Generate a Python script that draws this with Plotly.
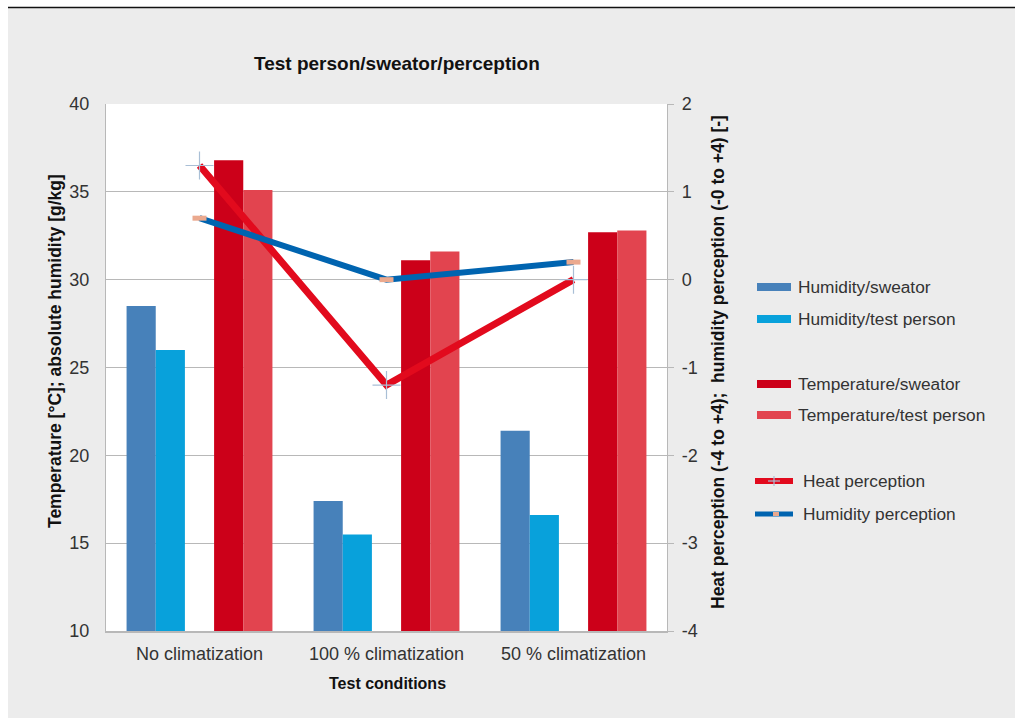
import plotly.graph_objects as go

# Test conditions (x categories)
categories = ["No climatization", "100 % climatization", "50 % climatization"]

# Left axis: temperature [°C] and absolute humidity [g/kg]
humidity_sweator = [28.5, 17.4, 21.4]
humidity_test_person = [26.0, 15.5, 16.6]
temperature_sweator = [36.8, 31.1, 32.7]
temperature_test_person = [35.1, 31.6, 32.8]

# Right axis: perception scores
heat_perception = [1.3, -1.2, 0.0]
humidity_perception = [0.7, 0.0, 0.2]

left_ticks = [10, 15, 20, 25, 30, 35, 40]
right_ticks = [-4, -3, -2, -1, 0, 1, 2]
right_tick_text = ["-4", "-3", "-2", "-1", "0", "1", "2"]

C_HUM_SW = "#4781ba"
C_HUM_TP = "#08a1db"
C_TEMP_SW = "#cc0019"
C_TEMP_TP = "#e2444f"
C_HEAT = "#e20a1d"
C_HUMP = "#0064b0"
GRID = "#b8b8b8"
TXT = "#333333"
FONT = "Liberation Sans, Arial, sans-serif"

# plot area in pixels
W, H = 1015, 718
L, R, T, B = 106, 667, 104, 631


def px(x):
    return (x - L) / (R - L)


def py(y):
    return (B - y) / (B - T)


fig = go.Figure()

bar_series = [
    ("Humidity/sweator", humidity_sweator, C_HUM_SW),
    ("Humidity/test person", humidity_test_person, C_HUM_TP),
    ("spacer", [None] * len(categories), "rgba(0,0,0,0)"),
    ("Temperature/sweator", temperature_sweator, C_TEMP_SW),
    ("Temperature/test person", temperature_test_person, C_TEMP_TP),
]
for name, vals, col in bar_series:
    fig.add_trace(go.Bar(
        x=categories, y=vals, name=name, marker=dict(color=col, line=dict(width=0)),
        showlegend=False, hoverinfo="skip" if name == "spacer" else None,
    ))

fig.add_trace(go.Scatter(
    x=categories, y=heat_perception, name="Heat perception", yaxis="y2",
    mode="lines+markers", line=dict(color=C_HEAT, width=7),
    marker=dict(symbol="cross-thin", size=20, line=dict(color="#a9bfd6", width=1.2)),
    showlegend=False,
))
fig.add_trace(go.Scatter(
    x=categories, y=humidity_perception, name="Humidity perception", yaxis="y2",
    mode="lines+markers", line=dict(color=C_HUMP, width=6),
    marker=dict(symbol="line-ew", size=10, line=dict(color="#eba98e", width=5)),
    showlegend=False,
))

shapes = [
    # white strips outside the grey panel
    dict(type="rect", xref="paper", yref="paper", x0=px(0), x1=px(8), y0=py(H), y1=py(0),
         fillcolor="white", line=dict(width=0), layer="below"),
    dict(type="rect", xref="paper", yref="paper", x0=px(0), x1=px(W), y0=py(7), y1=py(0),
         fillcolor="white", line=dict(width=0), layer="below"),
    dict(type="line", xref="paper", yref="paper", x0=px(8), x1=px(W), y0=py(7.5), y1=py(7.5),
         line=dict(color="#111111", width=1.5)),
]


def label(text, x, y, size, bold=False, angle=0, xanchor="center", color=TXT):
    return dict(text=f"<b>{text}</b>" if bold else text, x=px(x), y=py(y),
                xref="paper", yref="paper", xanchor=xanchor, yanchor="middle",
                showarrow=False, textangle=angle,
                font=dict(size=size, color=color, family=FONT))


annotations = [
    label("Test person/sweator/perception", 397, 64, 19, bold=True, color="#111111"),
    label("Temperature [°C]; absolute humidity [g/kg]", 55, 351, 17.5, bold=True, angle=-90,
          color="#111111"),
    label("Heat perception (-4 to +4);  humidity perception (-0 to +4) [-]", 718, 362, 17.5,
          bold=True, angle=-90, color="#111111"),
    label("Test conditions", 387, 683, 16, bold=True, color="#111111"),
]

# legend drawn as shapes + labels
bar_legend = [
    ("Humidity/sweator", C_HUM_SW, 287),
    ("Humidity/test person", C_HUM_TP, 319),
    ("Temperature/sweator", C_TEMP_SW, 384),
    ("Temperature/test person", C_TEMP_TP, 415),
]
for name, col, yy in bar_legend:
    shapes.append(dict(type="rect", xref="paper", yref="paper", x0=px(757), x1=px(791),
                       y0=py(yy + 4), y1=py(yy - 4), fillcolor=col, line=dict(width=0)))
    annotations.append(label(name, 796, yy, 17.3, xanchor="left"))

line_legend = [
    ("Heat perception", C_HEAT, 481, 6),
    ("Humidity perception", C_HUMP, 514, 5),
]
for name, col, yy, lw in line_legend:
    shapes.append(dict(type="line", xref="paper", yref="paper", x0=px(755), x1=px(793),
                       y0=py(yy), y1=py(yy), line=dict(color=col, width=lw)))
    annotations.append(label(name, 801, yy, 17.3, xanchor="left"))
# legend marker glyphs
shapes.append(dict(type="line", xref="paper", yref="paper", x0=px(768), x1=px(780),
                   y0=py(481), y1=py(481), line=dict(color="#a9bfd6", width=1.2)))
shapes.append(dict(type="line", xref="paper", yref="paper", x0=px(774), x1=px(774),
                   y0=py(486), y1=py(476), line=dict(color="#a9bfd6", width=1.2)))
shapes.append(dict(type="rect", xref="paper", yref="paper", x0=px(773), x1=px(779),
                   y0=py(516), y1=py(512), fillcolor="#eba98e", line=dict(width=0)))

fig.update_layout(
    width=W, height=H,
    margin=dict(l=L, r=W - R, t=T, b=H - B),
    paper_bgcolor="#ececec", plot_bgcolor="white",
    font=dict(family=FONT, color=TXT, size=17),
    barmode="group", bargap=0.22, bargroupgap=0,
    showlegend=False,
    xaxis=dict(showline=True, linecolor=GRID, linewidth=1.5, mirror=False, ticks="",
               tickfont=dict(size=18, color=TXT), ticklabelstandoff=6, fixedrange=True),
    yaxis=dict(range=[10, 40], tickvals=left_ticks, showgrid=True, gridcolor=GRID, gridwidth=1.3,
               showline=True, linecolor=GRID, linewidth=1.3, zeroline=False,
               tickfont=dict(size=18, color=TXT), ticklabelstandoff=12),
    yaxis2=dict(range=[-4, 2], tickvals=right_ticks, ticktext=right_tick_text,
                overlaying="y", side="right",
                showgrid=False, zeroline=False, showline=True, linecolor=GRID, linewidth=1.3,
                ticks="outside", ticklen=6, tickcolor=GRID, tickwidth=1.3,
                tickfont=dict(size=18, color=TXT), ticklabelstandoff=4),
    shapes=shapes, annotations=annotations,
)

fig.write_html("out.html")
